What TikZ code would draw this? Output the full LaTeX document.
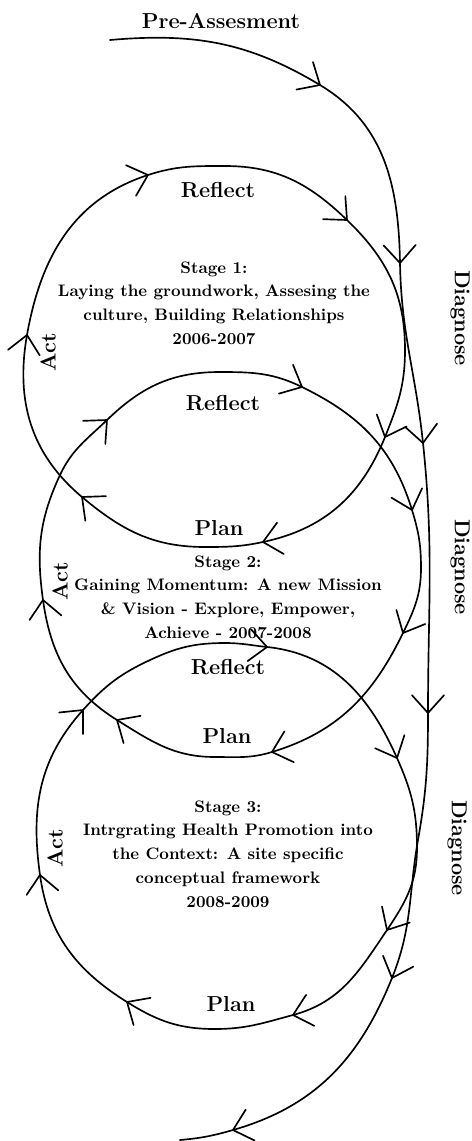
\documentclass[tikz,border=0pt]{standalone}
\usepackage{amsmath}

\begin{document}
\begin{tikzpicture}[x=0.6pt,y=-0.6pt,line width=1pt,line cap=round,line join=round,
  lbl/.style={font=\bfseries\fontsize{13}{15}\selectfont},
  stagetxt/.style={font=\bfseries\fontsize{10}{14.25}\selectfont,align=center}]
\useasboundingbox (0,0) rectangle (472,1141);
% pre-assessment / diagnose line
\draw (110,40) to[out=5,in=149] (320,85) to[out=-31,in=91] (400,263)
  to[out=-89,in=96] (423,443) to[out=-84,in=90] (428,713) to[out=-90,in=80] (418,840)
  to[out=-100,in=68] (392,978) to[out=-112,in=16] (233,1130) to[out=-164,in=5] (180,1140);
% stage 1 loop
\draw (225,166) to[out=0,in=136] (347,220) to[out=-44,in=90] (405,350)
  to[out=-90,in=68] (385,437) to[out=-112,in=12] (263,542) to[out=-168,in=0] (205,547)
  to[out=180,in=-40] (82,497) to[out=140,in=-100] (27,335) to[out=80,in=-162] (148,175)
  to[out=18,in=180] (225,166);
% stage 2 loop
\draw (220,372) to[out=0,in=154] (302,387) to[out=-26,in=107] (412,510)
  to[out=-73,in=90] (421,568) to[out=-90,in=64] (403,633) to[out=-116,in=17] (272,752)
  to[out=-163,in=0] (215,757) to[out=180,in=-32] (117,720) to[out=148,in=-82] (43,600)
  to[out=98,in=-115] (60,475) to[out=65,in=-136] (107,420) to[out=44,in=180] (220,372);
% stage 3 loop
\draw (225,643) to[out=0,in=174] (267,647) to[out=-6,in=114] (397,758)
  to[out=-66,in=90] (417,848) to[out=-90,in=56] (387,930) to[out=-124,in=15] (293,1015)
  to[out=-165,in=0] (215,1029) to[out=180,in=-32] (127,1002) to[out=148,in=-82] (40,875)
  to[out=98,in=-132] (83,710) to[out=48,in=-155] (150,660) to[out=25,in=180] (225,643);
% arrow barbs
\foreach \x/\y/\a in {320/85/31, 400/263/89, 423/443/84, 428/713/90, 392/978/110, 233/1130/164,
  347/220/44, 385/437/112, 263/542/168, 82/497/220, 27/335/280, 148/175/342,
  302/387/26, 412/510/73, 403/633/116, 272/752/163, 117/720/212, 43/600/262, 107/420/316,
  267/647/6, 397/758/66, 387/930/120, 293/1015/165, 127/1002/212, 40/875/262, 83/710/312}
  \draw (\x,\y) -- ++(\a+138:24) (\x,\y) -- ++(\a-138:24);
% labels
\node[lbl] (pre) at (221,21) {Pre-Assesment};
\node[lbl] (refl1) at (218,190) {Reflect};
\node[lbl] (refl2) at (223,403) {Reflect};
\node[lbl] (refl3) at (228,667) {Reflect};
\node[lbl] (plan1) at (219,528) {Plan};
\node[lbl] (plan2) at (227,736) {Plan};
\node[lbl] (plan3) at (231,1004) {Plan};
\node[lbl,rotate=90] (act1) at (48,352) {Act};
\node[lbl,rotate=90] (act2) at (60,581) {Act};
\node[lbl,rotate=90] (act3) at (55,848) {Act};
\node[lbl,rotate=-90] (diag1) at (460,318) {Diagnose};
\node[lbl,rotate=-90] (diag2) at (460,567) {Diagnose};
\node[lbl,rotate=-90] (diag3) at (457,848) {Diagnose};
\node[stagetxt] (stage1) at (214,303) {Stage 1:\\Laying the groundwork, Assesing the\\culture, Building Relationships\\2006-2007};
\node[stagetxt] (stage2) at (228,597) {Stage 2:\\Gaining Momentum: A new Mission\\\& Vision - Explore, Empower,\\Achieve - 2007-2008};
\node[stagetxt] (stage3) at (228,854) {Stage 3:\\Intrgrating Health Promotion into\\the Context: A site specific\\conceptual framework\\2008-2009};
\end{tikzpicture}
\end{document}
